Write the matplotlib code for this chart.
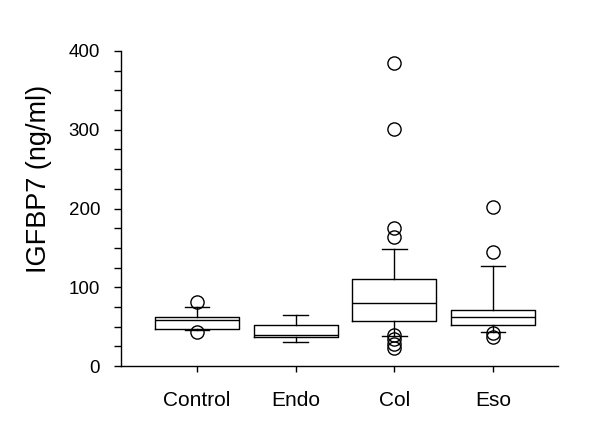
import matplotlib
matplotlib.use("Agg")
import matplotlib.pyplot as plt
from matplotlib.ticker import MultipleLocator

# groups and box statistics (ng/ml)
groups = ["Control", "Endo", "Col", "Eso"]
q1 = [47.1, 37.2, 56.7, 51.6]
median = [58.4, 39.4, 79.6, 62.6]
q3 = [61.8, 51.7, 110.9, 70.7]
whisk_lo = [45.7, 30.1, 38.1, 43.6]
whisk_hi = [75.3, 65.2, 148.6, 127.0]
outliers = [
    [81.6, 43.6],
    [],
    [384.3, 301.0, 174.8, 164.2, 39.5, 34.0, 28.5, 23.0],
    [202.3, 144.8, 42.5, 37.2],
]

stats = []
for i, g in enumerate(groups):
    stats.append(dict(label=g, q1=q1[i], med=median[i], q3=q3[i],
                      whislo=whisk_lo[i], whishi=whisk_hi[i], fliers=outliers[i]))

fig = plt.figure(figsize=(6, 4.41), dpi=100)
ax = fig.add_axes([0.2017, 0.170, 0.7283, 0.7144])

lp = dict(color="black", linewidth=1.0)
ax.bxp(stats, positions=range(1, 5), widths=0.85, showfliers=True,
       boxprops=lp, medianprops=lp, whiskerprops=lp, capprops=lp,
       capwidths=0.25,
       flierprops=dict(marker="o", markersize=9.5, markerfacecolor="none",
                       markeredgecolor="black", markeredgewidth=1.0))

ax.set_xlim(0.23, 4.66)
ax.set_ylim(0, 400)
ax.yaxis.set_major_locator(MultipleLocator(100))
ax.yaxis.set_minor_locator(MultipleLocator(25))
ax.spines["top"].set_visible(False)
ax.spines["right"].set_visible(False)
ax.spines["left"].set_linewidth(1.0)
ax.spines["bottom"].set_linewidth(1.0)

ax.tick_params(axis="y", which="both", direction="out", length=5, width=1.0,
               labelsize=13.5, pad=10)
ax.tick_params(axis="x", direction="out", length=4, width=1.0,
               labelsize=15, pad=14)
for t in ax.get_xticklabels() + ax.get_yticklabels():
    t.set_fontfamily("Liberation Sans")

ax.set_ylabel("IGFBP7 (ng/ml)", fontsize=19.5, fontfamily="Liberation Sans")
ax.yaxis.set_label_coords(-0.158, 0.594)

fig.savefig("out.png", dpi=100)
